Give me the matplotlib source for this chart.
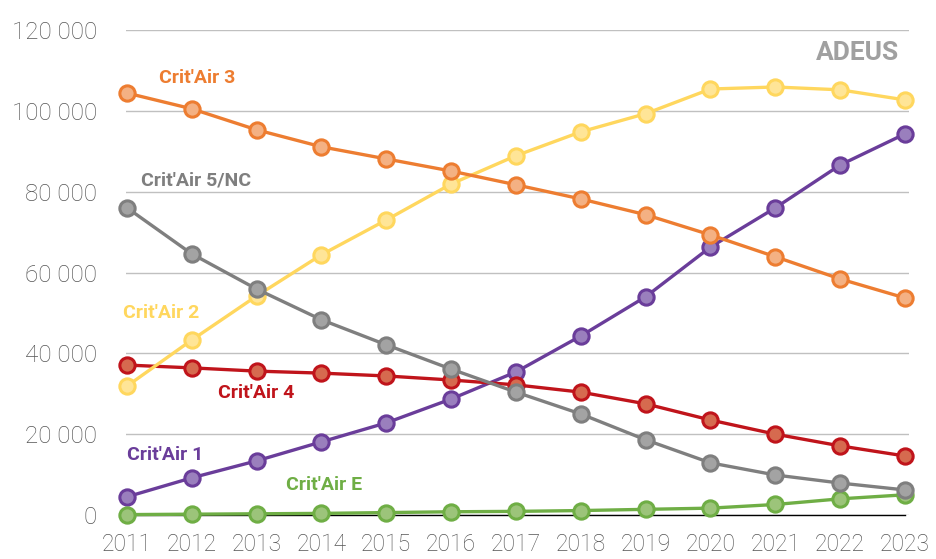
import numpy as np
import matplotlib
matplotlib.use("Agg")
import matplotlib.pyplot as plt

years = list(range(2011, 2024))

critair_1 = [4500, 9200, 13400, 18100, 22800, 28700, 35400, 44300, 54000, 66300, 76000, 86600, 94300]
critair_2 = [31900, 43300, 54200, 64400, 73000, 81900, 88900, 94800, 99300, 105400, 105900, 105200, 102700]
critair_3 = [104400, 100500, 95300, 91100, 88100, 85100, 81700, 78200, 74300, 69300, 63900, 58400, 53700]
critair_4 = [37100, 36400, 35600, 35100, 34400, 33400, 32200, 30400, 27500, 23500, 20000, 17100, 14600]
critair_5nc = [76000, 64600, 55900, 48300, 42100, 36100, 30400, 25000, 18600, 12900, 9900, 7900, 6200]
critair_e = [100, 200, 300, 400, 600, 800, 900, 1100, 1400, 1700, 2600, 4000, 5000]

y_ticks = [0, 20000, 40000, 60000, 80000, 100000, 120000]

# (name, values, line colour, marker face, zorder, label x, label y)
series = [
    ("Crit'Air 1", critair_1, "#6a3d9a", "#9a7fbd", 3, 2011.59, 14900),
    ("Crit'Air E", critair_e, "#6fae45", "#9cc47a", 4, 2014.04, 7400),
    ("Crit'Air 4", critair_4, "#c0141b", "#d66a4f", 5, 2013.0, 30200),
    ("Crit'Air 2", critair_2, "#ffd75e", "#ffe597", 6, 2011.52, 50000),
    ("Crit'Air 5/NC", critair_5nc, "#7f7f7f", "#a3a3a3", 7, 2012.06, 82700),
    ("Crit'Air 3", critair_3, "#ed7d31", "#f4b183", 8, 2012.08, 108200),
]

plt.rcParams['font.family'] = ['Roboto', 'DejaVu Sans']

fig = plt.figure(figsize=(9.36, 5.59), dpi=100)
ax = fig.add_axes([126 / 936, 44 / 559, 783 / 936, 485 / 559])

for name, vals, col, face, z, lx, ly in series:
    ax.plot(years, vals, color=col, lw=2.4, marker='o', ms=11,
            mfc=face, mec=col, mew=2.2, zorder=z, clip_on=False)
    ax.text(lx, ly, name, color=col, fontsize=14, fontweight='bold',
            ha='center', va='center')

ax.text(2022.26, 114400, "ADEUS", color="#a0a0a0", fontsize=19,
        fontweight='bold', ha='center', va='center')

ax.set_xlim(2011 - 1 / 64.83, 2023 + 4 / 64.83)
ax.set_ylim(0, 120000)
ax.set_xticks(years)
ax.set_yticks(y_ticks)
ax.set_yticklabels(["{:,}".format(v).replace(",", " ") for v in y_ticks])
ax.grid(axis='y', color='#c0c0c0', lw=1)
ax.set_axisbelow(True)
for s in ['top', 'right', 'left']:
    ax.spines[s].set_visible(False)
ax.spines['bottom'].set_color('#000000')
ax.spines['bottom'].set_linewidth(1)
ax.spines['bottom'].set_bounds(2011 - 1 / 64.83, 2023)
ax.tick_params(axis='x', length=0, labelsize=16.5, colors='#555555', pad=13)
ax.tick_params(axis='y', length=0, labelsize=17.5, colors='#555555', pad=21)
for lab in ax.get_xticklabels() + ax.get_yticklabels():
    lab.set_fontweight('light')

fig.savefig("out.png", dpi=100)
